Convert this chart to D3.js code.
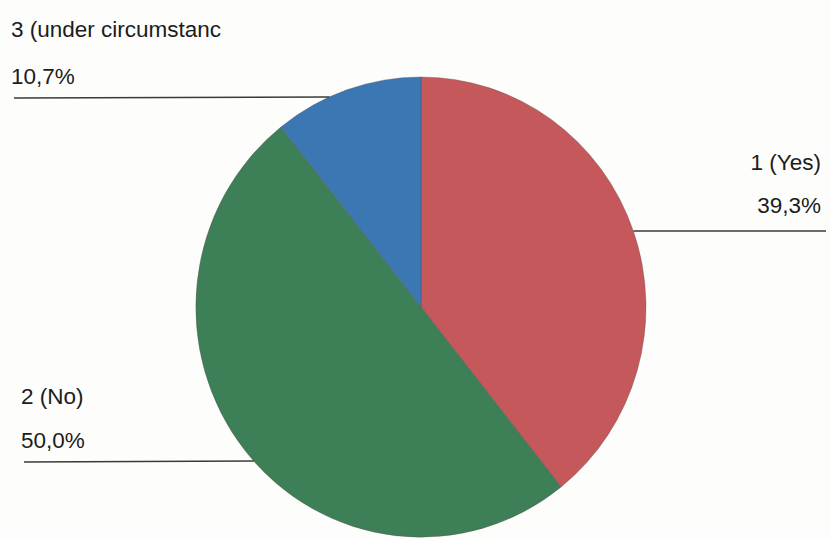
<!DOCTYPE html>
<html>
<head>
<meta charset="utf-8">
<script src="https://cdn.jsdelivr.net/npm/d3@7"></script>
<style>
  html, body { margin: 0; padding: 0; background: #fdfdfb; }
  svg { display: block; }
  text { font-family: "Liberation Sans", Arial, sans-serif; fill: #1c1c1c; }
</style>
</head>
<body>
<svg id="chart" width="830" height="538"></svg>
<script>
// Survey answers, clockwise from 12 o'clock
const categories = ["1 (Yes)", "2 (No)", "3 (under circumstanc"];
const shares = [39.3, 50.0, 10.7];
const percentLabels = ["39,3%", "50,0%", "10,7%"];
const colors = ["#c4585b", "#3d7f56", "#3b77b2"];

const W = 830, H = 538;
const cx = 421, cy = 307, rx = 225, ry = 230;

const svg = d3.select("#chart");

const pie = d3.pie().sort(null).value(d => d).startAngle(0).endAngle(2 * Math.PI);
const arcs = pie(shares);
const arc = d3.arc().innerRadius(0).outerRadius(rx);

const g = svg.append("g")
  .attr("transform", `translate(${cx},${cy}) scale(1,${ry / rx})`);

g.selectAll("path")
  .data(arcs)
  .join("path")
  .attr("d", arc)
  .attr("fill", (d, i) => colors[i])
  .attr("stroke", "#5a4a4a")
  .attr("stroke-opacity", 0.45)
  .attr("stroke-width", 0.8);

// Label blocks: name on top, percentage below, leader line underneath
const labelLayout = [
  { x: 821, anchor: "end",   nameY: 170, pctY: 213, lineY: 231, side: "right" },
  { x: 21,  anchor: "start", nameY: 404, pctY: 448, lineY: 461, side: "left", lineX: 24 },
  { x: 11,  anchor: "start", nameY: 37,  pctY: 84,  lineY: 97,  side: "left", lineX: 14 }
];

// x where a horizontal line at height y meets the pie outline
function edgeX(y, side) {
  const t = (y - cy) / ry;
  const dx = rx * Math.sqrt(Math.max(0, 1 - t * t));
  return side === "left" ? cx - dx : cx + dx;
}

labelLayout.forEach((L, i) => {
  svg.append("text")
    .attr("x", L.x).attr("y", L.nameY)
    .attr("text-anchor", L.anchor)
    .attr("font-size", 22.5)
    .text(categories[i]);
  svg.append("text")
    .attr("x", L.x).attr("y", L.pctY)
    .attr("text-anchor", L.anchor)
    .attr("font-size", 22.5)
    .text(percentLabels[i]);

  const x0 = L.side === "right" ? W - 4 : L.lineX;
  const x1 = edgeX(L.lineY, L.side);
  svg.append("line")
    .attr("x1", x0).attr("y1", L.lineY + (L.side === "left" ? 1 : 0))
    .attr("x2", x1).attr("y2", L.lineY)
    .attr("stroke", "#3a3a3a")
    .attr("stroke-width", 1.4);
});
</script>
</body>
</html>
